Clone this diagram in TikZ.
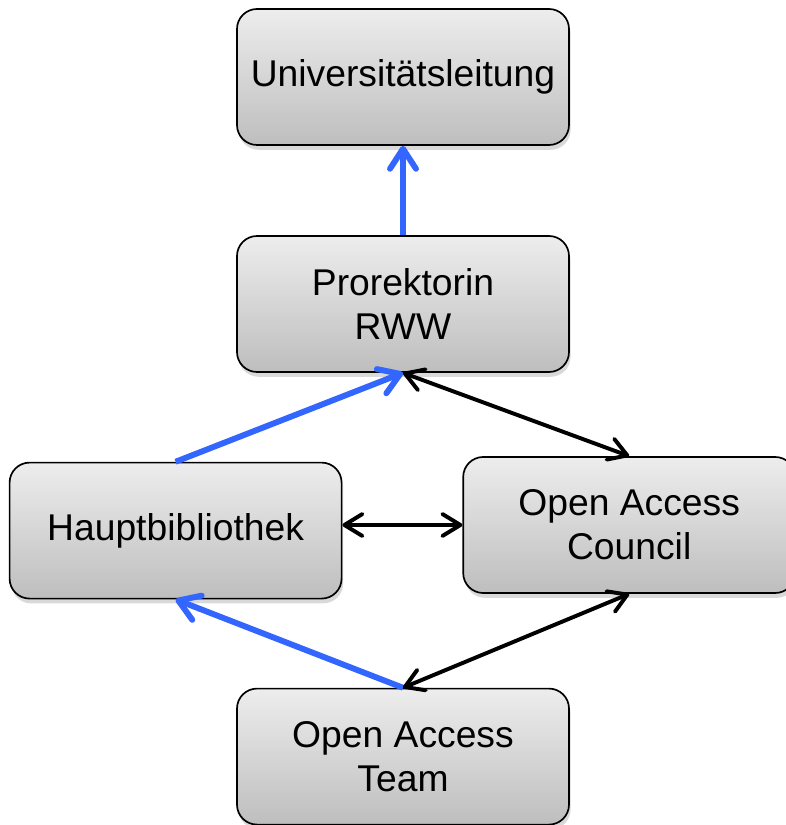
\documentclass[tikz,border=0pt]{standalone}
\usepackage{fontspec}
\setmainfont{Liberation Sans}
\usetikzlibrary{arrows.meta,shadows}
\definecolor{boxtop}{RGB}{237,237,237}
\definecolor{boxbottom}{RGB}{190,190,190}
\definecolor{linkblue}{RGB}{51,102,255}
\tikzset{
    every node/.style={rectangle, draw, rounded corners=0.5cm, line width=1.2pt,
    	top color=boxtop, bottom color=boxbottom,
    	minimum width=8.3cm, minimum height=3.4cm, align=center,
    	font=\fontsize{26.5}{31.5}\selectfont,
    	drop shadow={shadow xshift=0.4mm, shadow yshift=-1.2mm, opacity=0.3}}
}
\tikzset{reports/.style={linkblue, line width=4.2pt,
    -{Straight Barb[length=5mm, width=6.5mm, round]}}}
\tikzset{mutual/.style={black, line width=2.8pt,
    {Straight Barb[length=4.5mm, width=5.5mm, round]}-{Straight Barb[length=4.5mm, width=5.5mm, round]}}}

\begin{document}
\begin{tikzpicture}
  \useasboundingbox (0cm, 0cm) rectangle (19.65cm, 20.625cm);

  \node (ul) at (10.075cm, 18.7cm) {Universitätsleitung};
  \node (pr) at (10.075cm, 13.025cm) {Prorektorin\\RWW};
  \node (hb) at (4.39cm, 7.36cm) {Hauptbibliothek};
  \node (oac) at (15.73cm, 7.5cm) {Open Access\\Council};
  \node (oat) at (10.075cm, 1.71cm) {Open Access\\Team};

  \draw[reports] (pr) -- (ul);
  \draw[reports] (hb.north) -- (pr.south);
  \draw[reports] (oat.north) -- (hb.south);
  \draw[mutual] (pr.south) -- (oac.north);
  \draw[mutual] (oac.west -| hb.east) -- (oac.west);
  \draw[mutual] (oac.south) -- (oat.north);

\end{tikzpicture}
\end{document}
